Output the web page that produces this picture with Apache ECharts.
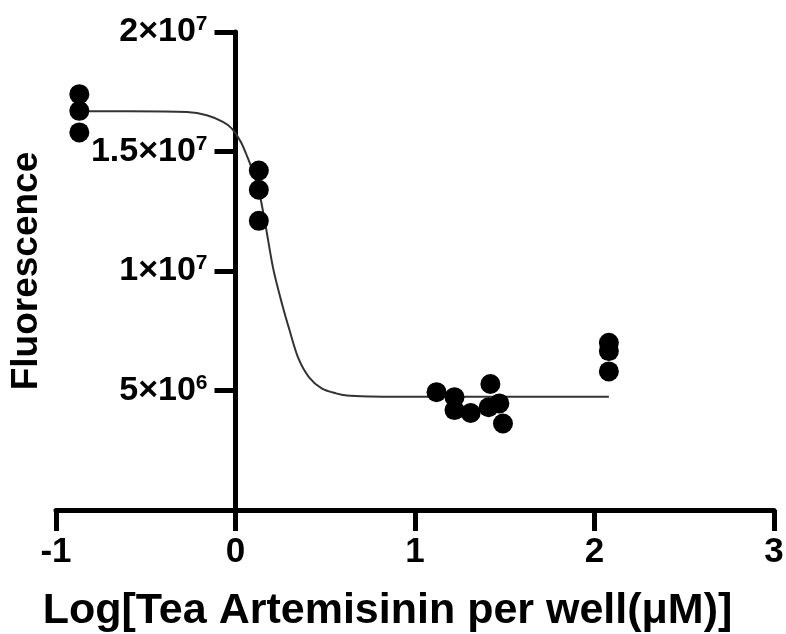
<!DOCTYPE html>
<html>
<head>
<meta charset="utf-8">
<script src="https://cdn.jsdelivr.net/npm/echarts@6/dist/echarts.min.js"></script>
<style>
  html, body { margin: 0; padding: 0; background: #fff; }
  #chart { width: 786px; height: 634px; }
</style>
</head>
<body>
<div id="chart"></div>
<script>
// measured points (log conc, fluorescence)
const pointX = [-0.87, -0.87, -0.87, 0.13, 0.13, 0.13, 1.12, 1.22, 1.22, 1.31, 1.42, 1.41, 1.47, 1.49, 2.08, 2.08, 2.08];
const pointY = [1.74e7, 1.67e7, 1.58e7, 1.42e7, 1.34e7, 1.21e7, 4.93e6, 4.72e6, 4.18e6, 4.06e6, 5.27e6, 4.3e6, 4.46e6, 3.62e6, 7.0e6, 6.65e6, 5.8e6];

// fitted curve
const curveX = [-0.87, -0.6, -0.27, -0.16, -0.07, -0.02, 0.03, 0.07, 0.10, 0.13, 0.17, 0.21, 0.26, 0.30, 0.35, 0.41, 0.48, 0.56, 0.62, 0.75, 0.92, 1.5, 2.08];
const curveY = [1.668e7, 1.668e7, 1.665e7, 1.652e7, 1.624e7, 1.596e7, 1.54e7, 1.47e7, 1.41e7, 1.338e7, 1.18e7, 1.01e7, 8.6e6, 7.55e6, 6.35e6, 5.55e6, 5.09e6, 4.88e6, 4.79e6, 4.75e6, 4.74e6, 4.74e6, 4.74e6];

// y tick labels: mantissa x 10^exp
const yTickValues = [5e6, 1e7, 1.5e7, 2e7];
const yTickMantissa = ['5', '1', '1.5', '2'];
const yTickExp = ['6', '7', '7', '7'];

const chart = echarts.init(document.getElementById('chart'));
const font = 'Liberation Sans, Arial, sans-serif';

// y axis sits at x = 0, a quarter of the way along the x range
const gridLeft = 56, gridRight = 12;
const yAxisShift = (786 - gridLeft - gridRight) / 4;

const option = {
  backgroundColor: '#fff',
  animation: false,
  grid: { left: gridLeft, right: gridRight, top: 32, bottom: 124, containLabel: false, outerBoundsMode: 'none' },
  xAxis: {
    type: 'value',
    min: -1,
    max: 3,
    interval: 1,
    splitLine: { show: false },
    axisLine: { onZero: false, lineStyle: { color: '#000', width: 5 } },
    axisTick: { length: 21, lineStyle: { color: '#000', width: 5 } },
    axisLabel: { color: '#000', fontSize: 35, fontWeight: 'bold', fontFamily: font, margin: 25 },
    name: 'Log[Tea Artemisinin per well(μM)]',
    nameLocation: 'middle',
    nameGap: 80,
    nameTextStyle: { color: '#000', fontSize: 43, fontWeight: 'bold', fontFamily: font, padding: [0, 55, 0, 0] }
  },
  yAxis: {
    type: 'value',
    min: 0,
    max: 2e7,
    interval: 5e6,
    offset: -yAxisShift,
    splitLine: { show: false },
    axisLine: { onZero: false, lineStyle: { color: '#000', width: 5 } },
    axisTick: { length: 21, customValues: yTickValues, lineStyle: { color: '#000', width: 5 } },
    axisLabel: {
      customValues: yTickValues,
      margin: 28,
      formatter: function (v) {
        const i = yTickValues.indexOf(v);
        if (i < 0) return '';
        return '{b|' + yTickMantissa[i] + '×10}{s|' + yTickExp[i] + '}';
      },
      rich: {
        b: { color: '#000', fontSize: 34, fontWeight: 'bold', fontFamily: font, lineHeight: 36 },
        s: { color: '#000', fontSize: 21, fontWeight: 'bold', fontFamily: font, verticalAlign: 'top', lineHeight: 36, padding: [0, 0, 14, 0] }
      }
    },
    name: 'Fluorescence',
    nameLocation: 'middle',
    nameGap: 190,
    nameTextStyle: { color: '#000', fontSize: 37, fontWeight: 'bold', fontFamily: font }
  },
  series: [
    {
      type: 'line',
      data: curveX.map((x, i) => [x, curveY[i]]),
      showSymbol: false,
      smooth: 0.3,
      lineStyle: { color: '#333', width: 2 },
      z: 2
    },
    {
      type: 'scatter',
      data: pointX.map((x, i) => [x, pointY[i]]),
      symbol: 'circle',
      symbolSize: 20,
      itemStyle: { color: '#000', opacity: 1 },
      z: 3
    }
  ]
};
chart.setOption(option);
</script>
</body>
</html>
